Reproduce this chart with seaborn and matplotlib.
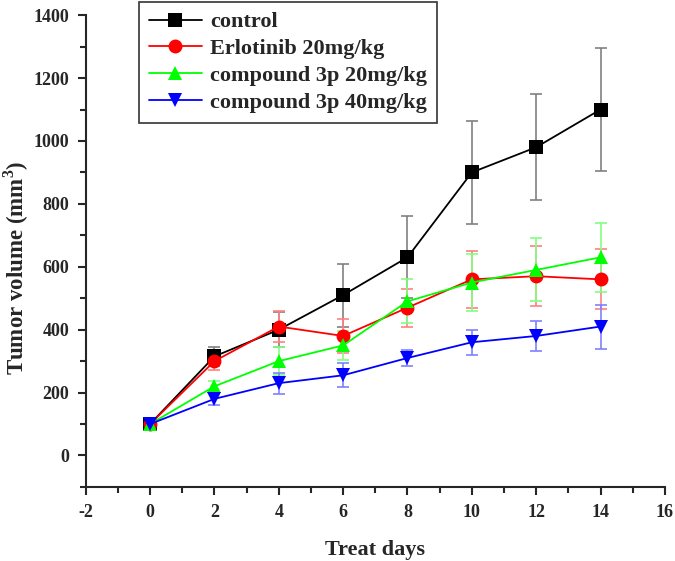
import numpy as np
import pandas as pd
import matplotlib
matplotlib.use("Agg")
import matplotlib.pyplot as plt
import seaborn as sns
from matplotlib.ticker import MultipleLocator

days = [0, 2, 4, 6, 8, 10, 12, 14]
groups = ["control", "Erlotinib 20mg/kg", "compound 3p 20mg/kg", "compound 3p 40mg/kg"]
control = [100, 315, 400, 510, 630, 900, 980, 1100]
control_err = [5, 30, 55, 100, 130, 165, 168, 195]
erlotinib = [100, 300, 410, 380, 470, 560, 570, 560]
erlotinib_err = [5, 28, 50, 55, 60, 90, 95, 95]
cpd_20 = [100, 220, 300, 350, 490, 550, 590, 630]
cpd_20_err = [5, 18, 45, 45, 70, 90, 100, 110]
cpd_40 = [100, 180, 230, 255, 310, 360, 380, 410]
cpd_40_err = [5, 20, 33, 38, 25, 40, 48, 70]

series = [control, erlotinib, cpd_20, cpd_40]
errors = [control_err, erlotinib_err, cpd_20_err, cpd_40_err]
colors = ["black", "red", "#00ff00", "blue"]
err_colors = ["#808080", "#ff8080", "#80ff80", "#8080ff"]
markers = ["s", "o", "^", "v"]

rows = []
for g, vals in zip(groups, series):
    for d, v in zip(days, vals):
        rows.append({"day": d, "volume": v, "group": g})
df = pd.DataFrame(rows)

sns.set_style("ticks")
plt.rcParams["font.family"] = ["Liberation Serif", "DejaVu Serif"]
plt.rcParams["font.weight"] = "bold"
plt.rcParams["axes.unicode_minus"] = False
plt.rcParams["mathtext.fontset"] = "custom"
plt.rcParams["mathtext.rm"] = "Liberation Serif:bold"
plt.rcParams["mathtext.bf"] = "Liberation Serif:bold"

fig = plt.figure(figsize=(6.75, 5.61), dpi=100)
ax = fig.add_axes([0.127, 0.132, 0.858, 0.841])

for g, vals, errs, ec in zip(groups, series, errors, err_colors):
    ax.errorbar(days, vals, yerr=errs, fmt="none", ecolor=ec, elinewidth=1.2,
                capsize=4, capthick=1.2, zorder=1)

sns.lineplot(data=df, x="day", y="volume", hue="group", style="group",
             palette=dict(zip(groups, colors)), markers=dict(zip(groups, markers)),
             dashes=False, markersize=10, markeredgewidth=0, linewidth=1.3, ax=ax, zorder=3)

ax.set_xlim(-2, 16)
ax.set_ylim(-100, 1400)
ax.xaxis.set_major_locator(MultipleLocator(2))
ax.xaxis.set_minor_locator(MultipleLocator(1))
ax.yaxis.set_major_locator(MultipleLocator(200))
ax.yaxis.set_minor_locator(MultipleLocator(100))
ax.tick_params(which="major", length=6, width=1.5, labelsize=13, pad=6)
ax.tick_params(which="minor", length=4, width=1.5)
for lab in ax.get_xticklabels() + ax.get_yticklabels():
    lab.set_fontweight("bold")
sns.despine(ax=ax)
for s in ["left", "bottom"]:
    ax.spines[s].set_linewidth(1.5)

ax.set_xlabel("Treat days", fontsize=16, fontweight="bold", labelpad=14)
ax.set_ylabel("Tumor volume (mm$^{\\mathbf{3}}$)", fontsize=16.5, fontweight="bold")
ax.yaxis.set_label_coords(-0.095, 0.464)

leg = ax.legend(loc="upper left", bbox_to_anchor=(0.0915, 1.028), frameon=True,
                fancybox=False, edgecolor="black", handlelength=2.4, handletextpad=0.35,
                borderpad=0.45, labelspacing=0.28, borderaxespad=0,
                prop={"weight": "bold", "size": 16})
leg.get_frame().set_linewidth(1.2)

fig.savefig("out.png", dpi=100)
